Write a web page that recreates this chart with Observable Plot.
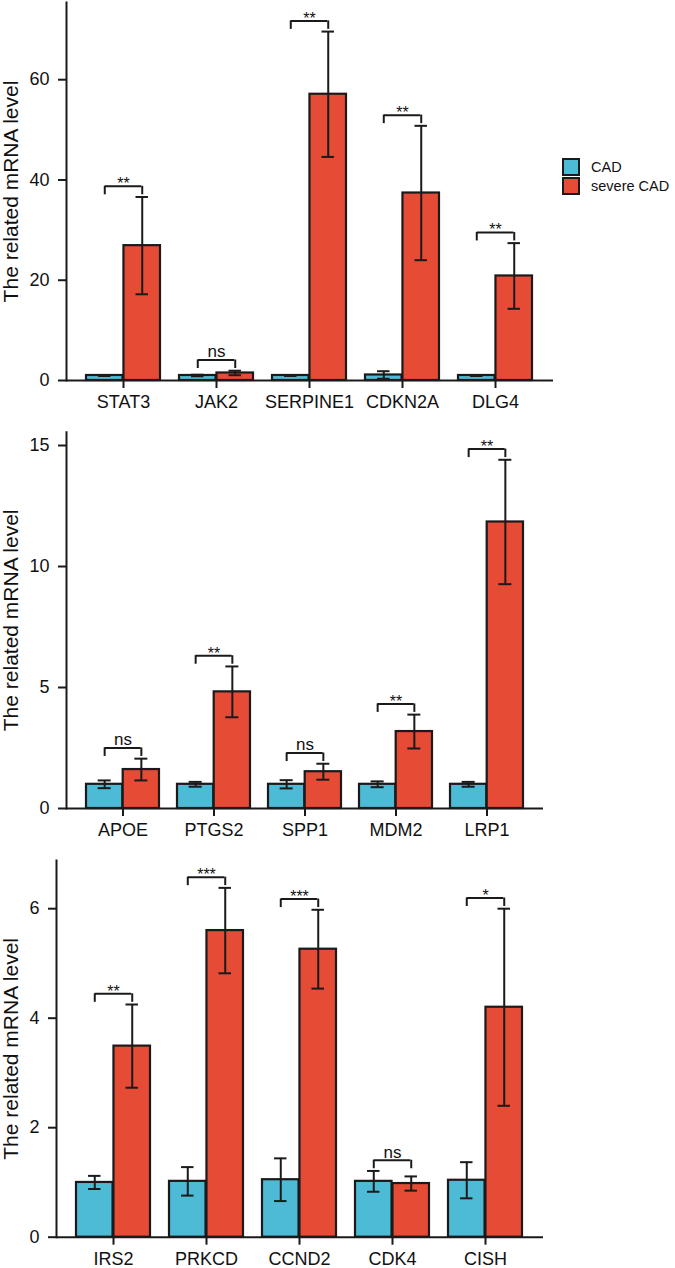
<!DOCTYPE html>
<html>
<head>
<meta charset="utf-8">
<script src="https://cdn.jsdelivr.net/npm/d3@7"></script>
<script src="https://cdn.jsdelivr.net/npm/@observablehq/plot@0.6"></script>
<style>
  body { margin: 0; background: #fff; font-family: "Liberation Sans", Arial, Helvetica, sans-serif; }
  #fig { position: relative; width: 675px; height: 1268px; overflow: hidden; }
  .panel { position: absolute; left: 0; }
  .panel svg { display: block; }
  .legend { position: absolute; left: 562px; top: 157px; font-size: 14.5px; color: #111; }
  .legend .row { display: flex; align-items: center; height: 19.5px; }
  .legend .sw { width: 18px; height: 18px; box-sizing: border-box; border: 2.5px solid #1a1a1a; margin-right: 11px; }
</style>
</head>
<body>
<div id="fig"></div>
<script>
// Groups and colours
const groups = ["CAD", "severe CAD"];
const groupColors = ["#4DBBD5", "#E64B35"];

// Panel A
const genesA = ["STAT3", "JAK2", "SERPINE1", "CDKN2A", "DLG4"];
const cadA = [1.0, 1.0, 1.0, 1.1, 1.0];
const cadErrA = [0.1, 0.15, 0.1, 0.75, 0.1];
const sevA = [26.9, 1.5, 57.1, 37.4, 20.85];
const sevErrA = [9.7, 0.45, 12.5, 13.4, 6.55];
const sigA = ["**", "ns", "**", "**", "**"];
const ticksA = [0, 20, 40, 60];

// Panel B
const genesB = ["APOE", "PTGS2", "SPP1", "MDM2", "LRP1"];
const cadB = [1.0, 1.0, 1.0, 1.0, 1.0];
const cadErrB = [0.16, 0.1, 0.17, 0.12, 0.1];
const sevB = [1.61, 4.82, 1.52, 3.18, 11.84];
const sevErrB = [0.45, 1.05, 0.33, 0.7, 2.57];
const sigB = ["ns", "**", "ns", "**", "**"];
const ticksB = [0, 5, 10, 15];

// Panel C
const genesC = ["IRS2", "PRKCD", "CCND2", "CDK4", "CISH"];
const cadC = [1.0, 1.02, 1.05, 1.02, 1.04];
const cadErrC = [0.12, 0.26, 0.39, 0.19, 0.33];
const sevC = [3.49, 5.6, 5.26, 0.98, 4.2];
const sevErrC = [0.76, 0.78, 0.72, 0.13, 1.8];
const sigC = ["**", "***", "***", "ns", "*"];
const ticksC = [0, 2, 4, 6];

const yLabel = "The related mRNA level";
const FONT = '"Liberation Sans", Arial, Helvetica, sans-serif';
const INK = "#1a1a1a";

function panel(spec) {
  const {genes, cad, cadErr, sev, sevErr, sig, ticks, yMax,
         top, height, marginLeft, marginRight, marginTop, marginBottom} = spec;
  const rows = genes.map((gene, i) => {
    const cadHi = cad[i] + cadErr[i], sevHi = sev[i] + sevErr[i];
    return {
      gene, sig: sig[i],
      cad: cad[i], cadLo: cad[i] - cadErr[i], cadHi,
      sev: sev[i], sevLo: sev[i] - sevErr[i], sevHi,
      peak: Math.max(cadHi, sevHi)
    };
  });

  const width = 675;
  const padIn = 0.2, padOut = 0.2;
  const step = (width - marginLeft - marginRight) / (genes.length - padIn + 2 * padOut);
  const bw = step * (1 - padIn);   // width of a gene's pair of bars
  const half = bw / 2, q = bw / 4; // q: offset of each bar centre from the band centre
  const cap = 6.7;                 // half-width of an error-bar cap
  const lift = 10.7;               // gap between the highest whisker and the bracket
  const leg = 8.5;                 // bracket leg length

  const errStyle = {stroke: INK, strokeWidth: 2};
  const isStars = d => d.sig !== "ns";

  const chart = Plot.plot({
    width, height, marginLeft, marginRight, marginTop, marginBottom,
    style: {fontFamily: FONT, fontSize: "18px", color: "#000", background: "transparent", overflow: "visible"},
    x: {type: "band", domain: genes, paddingInner: padIn, paddingOuter: padOut, align: 0.5, axis: null},
    y: {domain: [0, yMax], axis: null},
    marks: [
      // bars
      Plot.barY(rows, {x: "gene", y: "cad", fill: groupColors[0], stroke: INK, strokeWidth: 2.2, insetRight: half}),
      Plot.barY(rows, {x: "gene", y: "sev", fill: groupColors[1], stroke: INK, strokeWidth: 2.2, insetLeft: half}),
      // error bars
      Plot.ruleX(rows, {x: "gene", y1: "cadLo", y2: "cadHi", dx: -q, ...errStyle}),
      Plot.ruleX(rows, {x: "gene", y1: "sevLo", y2: "sevHi", dx: q, ...errStyle}),
      Plot.tickY(rows, {x: "gene", y: "cadHi", insetLeft: q - cap, insetRight: bw - q - cap, ...errStyle}),
      Plot.tickY(rows, {x: "gene", y: "cadLo", insetLeft: q - cap, insetRight: bw - q - cap, ...errStyle}),
      Plot.tickY(rows, {x: "gene", y: "sevHi", insetLeft: bw - q - cap, insetRight: q - cap, ...errStyle}),
      Plot.tickY(rows, {x: "gene", y: "sevLo", insetLeft: bw - q - cap, insetRight: q - cap, ...errStyle}),
      // significance brackets: a bar above the higher whisker with two short legs
      Plot.ruleY(rows, {y: "peak", x1: "gene", x2: "gene", insetLeft: q, insetRight: q, dy: -lift, ...errStyle}),
      Plot.ruleX(rows, {x: "gene", y1: "peak", y2: "peak", dx: -q, dy: -lift, insetTop: leg, ...errStyle}),
      Plot.ruleX(rows, {x: "gene", y1: "peak", y2: "peak", dx: q, dy: -lift, insetTop: leg, ...errStyle}),
      Plot.text(rows.filter(d => !isStars(d)), {x: "gene", y: "peak", text: "sig", dy: -lift - 2.6, lineAnchor: "bottom", fontSize: 17, fill: "#111"}),
      Plot.text(rows.filter(isStars), {x: "gene", y: "peak", text: "sig", dy: -lift + 2.9, lineAnchor: "bottom", fontSize: 16, fill: "#111"}),
      // axes
      Plot.ruleY([0], {stroke: INK, strokeWidth: 2}),
      Plot.frame({anchor: "left", stroke: INK, strokeWidth: 2}),
      Plot.axisX({tickSize: 8, tickPadding: 7, strokeWidth: 2, stroke: INK, label: null, fontSize: 18, fill: "#111"}),
      Plot.axisY({ticks, tickFormat: d => String(d), tickSize: 8, tickPadding: 9, strokeWidth: 2, stroke: INK, label: null, fontSize: 18, fill: "#111"}),
      Plot.text([yLabel], {text: d => d, frameAnchor: "left", textAnchor: "middle", lineAnchor: "middle", rotate: -90, dx: 11 - marginLeft, fontSize: 21, fill: "#111"})
    ]
  });

  const wrap = document.createElement("div");
  wrap.className = "panel";
  wrap.style.top = top + "px";
  wrap.appendChild(chart);
  return wrap;
}

const fig = document.getElementById("fig");

fig.appendChild(panel({
  genes: genesA, cad: cadA, cadErr: cadErrA, sev: sevA, sevErr: sevErrA, sig: sigA,
  ticks: ticksA, yMax: 75.4, top: 0, height: 415,
  marginLeft: 66, marginRight: 122, marginTop: 2, marginBottom: 35
}));
fig.appendChild(panel({
  genes: genesB, cad: cadB, cadErr: cadErrB, sev: sevB, sevErr: sevErrB, sig: sigB,
  ticks: ticksB, yMax: 15.55, top: 415, height: 428,
  marginLeft: 66, marginRight: 132, marginTop: 16.7, marginBottom: 35
}));
fig.appendChild(panel({
  genes: genesC, cad: cadC, cadErr: cadErrC, sev: sevC, sevErr: sevErrC, sig: sigC,
  ticks: ticksC, yMax: 6.88, top: 843, height: 425,
  marginLeft: 56, marginRight: 132, marginTop: 17, marginBottom: 31.3
}));

// legend for the two groups
const legend = document.createElement("div");
legend.className = "legend";
groups.forEach((g, i) => {
  const row = document.createElement("div");
  row.className = "row";
  const sw = document.createElement("span");
  sw.className = "sw";
  sw.style.background = groupColors[i];
  const label = document.createElement("span");
  label.textContent = g;
  row.appendChild(sw);
  row.appendChild(label);
  legend.appendChild(row);
});
fig.appendChild(legend);
</script>
</body>
</html>
